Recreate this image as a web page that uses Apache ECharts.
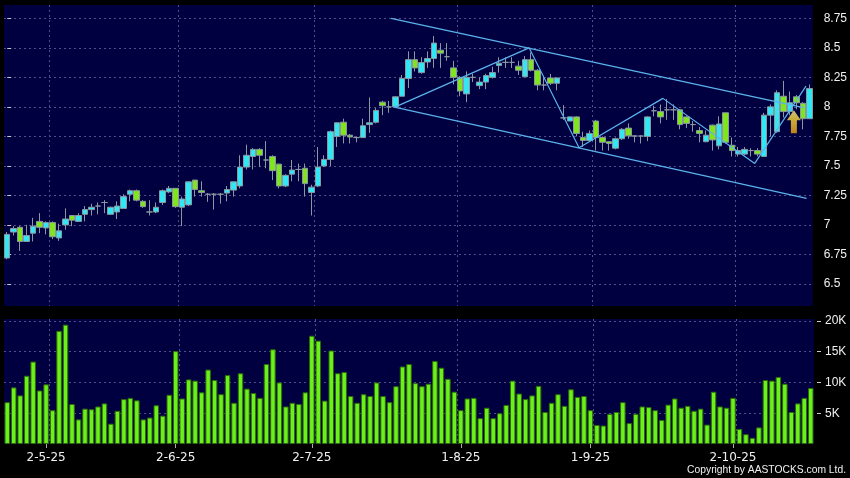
<!DOCTYPE html>
<html><head><meta charset="utf-8">
<script src="https://cdn.jsdelivr.net/npm/echarts@6/dist/echarts.min.js"></script>
<style>html,body{margin:0;padding:0;background:#000;}#c{width:850px;height:478px;}</style>
</head><body><div id="c"></div>
<script>
// [open, close, low, high]
const ohlc = [
[6.72,6.92,6.71,6.94],[6.94,6.97,6.91,6.99],[6.98,6.86,6.78,6.99],[6.86,6.91,6.86,7.00],[6.93,6.99,6.86,7.06],
[7.03,6.98,6.93,7.10],[6.975,7.02,6.92,7.03],[7.02,6.90,6.88,7.03],[6.89,6.95,6.865,7.01],[7.00,7.05,6.96,7.14],
[7.08,7.04,6.99,7.08],[7.03,7.08,7.03,7.10],[7.09,7.13,7.03,7.16],[7.13,7.15,7.08,7.18],[7.16,7.16,7.09,7.19],
[7.19,7.19,7.10,7.21],[7.09,7.15,7.085,7.155],[7.11,7.16,7.05,7.20],[7.14,7.24,7.14,7.26],[7.26,7.29,7.20,7.30],
[7.29,7.21,7.20,7.30],[7.20,7.155,7.145,7.21],[7.11,7.11,7.08,7.21],[7.11,7.15,7.10,7.19],[7.19,7.29,7.17,7.30],
[7.28,7.31,7.27,7.33],[7.31,7.155,7.145,7.31],[7.15,7.22,6.99,7.24],[7.17,7.365,7.16,7.37],[7.38,7.30,7.24,7.38],
[7.29,7.275,7.24,7.37],[7.26,7.26,7.196,7.27],[7.26,7.26,7.13,7.27],[7.26,7.26,7.18,7.27],[7.27,7.30,7.20,7.33],
[7.295,7.365,7.24,7.37],[7.33,7.49,7.31,7.59],[7.49,7.59,7.47,7.68],[7.58,7.64,7.47,7.65],[7.64,7.59,7.49,7.65],
[7.55,7.55,7.48,7.71],[7.58,7.46,7.38,7.59],[7.515,7.33,7.31,7.52],[7.33,7.42,7.32,7.43],[7.43,7.465,7.37,7.55],
[7.47,7.47,7.37,7.52],[7.48,7.35,7.24,7.52],[7.275,7.32,7.08,7.34],[7.33,7.49,7.32,7.66],[7.50,7.555,7.49,7.59],
[7.555,7.79,7.50,7.80],[7.75,7.865,7.66,7.87],[7.87,7.76,7.69,7.90],[7.76,7.745,7.69,7.77],[7.74,7.74,7.70,7.75],
[7.74,7.84,7.74,7.90],[7.85,7.865,7.78,8.08],[7.87,7.97,7.86,7.99],[8.04,8.01,7.93,8.05],[8.00,8.00,7.95,8.05],
[8.00,8.085,7.99,8.09],[8.09,8.24,8.09,8.27],[8.24,8.40,8.16,8.47],[8.40,8.33,8.30,8.47],[8.29,8.375,8.28,8.42],
[8.38,8.41,8.33,8.47],[8.41,8.54,8.33,8.60],[8.48,8.455,8.33,8.54],[8.425,8.425,8.39,8.54],[8.33,8.25,8.19,8.39],
[8.25,8.135,8.09,8.26],[8.11,8.25,8.04,8.30],[8.25,8.25,8.21,8.28],[8.18,8.21,8.15,8.25],[8.21,8.265,8.15,8.28],
[8.25,8.29,8.24,8.34],[8.35,8.37,8.29,8.42],[8.377,8.377,8.33,8.42],[8.377,8.377,8.33,8.42],[8.345,8.31,8.27,8.39],
[8.255,8.40,8.25,8.43],[8.40,8.31,8.30,8.46],[8.31,8.185,8.14,8.32],[8.185,8.185,8.14,8.25],[8.245,8.20,8.185,8.28],
[8.20,8.245,8.14,8.25],[7.907,7.907,7.89,8.015],[7.88,7.915,7.88,7.92],[7.915,7.775,7.75,7.92],[7.74,7.715,7.66,7.79],
[7.715,7.775,7.71,7.80],[7.88,7.74,7.63,7.89],[7.74,7.70,7.63,7.75],[7.705,7.69,7.63,7.71],[7.65,7.73,7.64,7.74],
[7.73,7.81,7.72,7.82],[7.82,7.755,7.73,7.86],[7.753,7.753,7.70,7.76],[7.753,7.753,7.69,7.76],[7.75,7.915,7.71,7.92],
[7.967,7.967,7.92,8.01],[7.96,7.915,7.86,8.02],[7.975,7.975,7.89,8.066],[7.975,7.975,7.89,8.02],[7.975,7.85,7.81,7.98],
[7.915,7.86,7.82,7.92],[7.85,7.85,7.79,7.88],[7.80,7.775,7.70,7.83],[7.705,7.76,7.70,7.80],[7.845,7.72,7.63,7.85],
[7.67,7.855,7.64,7.92],[7.95,7.70,7.69,7.95],[7.675,7.63,7.58,7.74],[7.60,7.63,7.58,7.66],[7.60,7.64,7.59,7.66],
[7.63,7.63,7.58,7.65],[7.63,7.60,7.58,7.65],[7.58,7.93,7.58,7.95],[7.93,8.00,7.75,8.02],[7.79,8.12,7.78,8.14],
[8.09,7.96,7.91,8.22],[7.96,8.035,7.93,8.13],[8.085,8.035,7.98,8.10],[8.03,7.90,7.81,8.04],[7.90,8.155,7.90,8.19]
];
// volume in thousands of shares
const volumeK = [
6.8,9.2,7.9,11.1,13.4,8.7,9.7,5.5,18.4,19.4,
6.5,4.0,5.75,5.65,6.1,6.6,3.3,5.4,7.3,7.5,
7.1,4.0,4.3,6.3,4.6,8.0,15.1,7.4,10.5,10.3,
8.4,12.1,10.4,8.1,11.2,6.7,11.5,9.0,8.3,7.5,
13.0,15.4,10.0,6.1,6.7,6.5,8.4,17.6,16.8,7.05,
15.2,11.5,11.7,7.8,6.7,8.1,7.8,10.0,7.8,6.8,
9.4,12.6,13.0,9.9,9.4,9.8,13.5,12.4,10.6,8.5,
5.5,7.4,7.5,4.2,5.9,4.2,5.0,6.35,10.3,8.2,
7.3,7.9,9.45,5.2,6.7,8.1,6.2,8.9,7.65,7.8,
5.5,3.1,3.0,4.9,5.2,6.8,3.4,4.9,6.1,6.0,
5.5,3.9,6.4,7.4,5.9,6.2,5.4,5.75,3.15,8.5,
6.1,5.9,7.5,2.45,1.6,1.0,2.7,10.4,10.3,10.9,
9.8,5.2,6.6,7.5,9.1
];
const sessions = ohlc.map((_, i) => 'S' + i);
const tickLabels = ['2-5-25','2-6-25','2-7-25','1-8-25','1-9-25','2-10-25'];
const tickAt = [6, 26, 47, 70, 90, 112];      // session carrying each date label
const monthStart = [7, 27, 48, 70, 91, 113];  // first session of each month
const priceTicks = [6.5, 6.75, 7, 7.25, 7.5, 7.75, 8, 8.25, 8.5, 8.75];
const volumeTicks = [5000, 10000, 15000, 20000];
// drawn trend lines: [session, price]
const upperChannel = [[59.33, 8.75], [123.1, 7.994]];
const lowerChannel = [[59.68, 8.0], [123.57, 7.225]];
const zigzag = [[60.0, 8.0], [80.67, 8.50], [88.39, 7.653], [101.35, 8.072], [115.55, 7.521], [123.47, 8.176]];
const signalArrow = [[121.6, 7.875]];

const volume = volumeK.map(v => v * 1000);

const gridLine = { show: true, lineStyle: { color: '#4e4e88', type: [2, 3], width: 1 } };
const labelFont = { color: '#f0f0f0', fontSize: 12, fontFamily: 'Liberation Sans' };
const chart = echarts.init(document.getElementById('c'), null, { renderer: 'canvas' });
const lineColor = '#5cb2ec';
chart.setOption({
  animation: false,
  backgroundColor: '#000000',
  grid: [
    { left: 4, right: 36, top: 5, height: 301, show: true, backgroundColor: '#000040', borderWidth: 0 },
    { left: 4, right: 36, top: 319, height: 125, show: true, backgroundColor: '#000040', borderWidth: 0 }
  ],
  xAxis: [
    { type: 'category', gridIndex: 0, data: sessions, boundaryGap: true,
      axisLine: { show: false }, axisTick: { show: false }, axisLabel: { show: false },
      splitLine: Object.assign({ interval: (i) => monthStart.includes(i), showMaxLine: false }, gridLine) },
    { type: 'category', gridIndex: 1, data: sessions, boundaryGap: true,
      axisLine: { show: false },
      axisTick: { show: true, interval: (i) => tickAt.includes(i), alignWithLabel: true, length: 4, lineStyle: { color: '#aaaaaa' } },
      axisLabel: { show: true, interval: (i) => tickAt.includes(i), margin: 8, color: '#f0f0f0', fontSize: 12, fontFamily: 'DejaVu Sans',
        formatter: (v, i) => { const k = tickAt.indexOf(i); return k >= 0 ? tickLabels[k] : ''; } },
      splitLine: Object.assign({ interval: (i) => monthStart.includes(i), showMaxLine: false }, gridLine) },
    { type: 'value', gridIndex: 0, min: -0.5, max: ohlc.length - 0.5, show: false, splitLine: { show: false } }
  ],
  yAxis: [
    { type: 'value', gridIndex: 0, position: 'right', offset: 3, min: 6.3136, max: 8.8627,
      minInterval: 0.25, maxInterval: 0.25, scale: true,
      axisLine: { show: false },
      axisTick: { show: true, length: 4, customValues: priceTicks, lineStyle: { color: '#cccccc' } },
      axisLabel: Object.assign({ margin: 8, customValues: priceTicks }, labelFont),
      splitLine: gridLine },
    { type: 'value', gridIndex: 1, position: 'right', offset: 3, min: 0, max: 20320,
      minInterval: 5000, maxInterval: 5000,
      axisLine: { show: false },
      axisTick: { show: true, length: 4, customValues: volumeTicks, lineStyle: { color: '#cccccc' } },
      axisLabel: Object.assign({ margin: 8, customValues: volumeTicks, formatter: (v) => (v / 1000) + 'K' }, labelFont),
      splitLine: gridLine }
  ],
  series: [
    { type: 'candlestick', xAxisIndex: 0, yAxisIndex: 0, data: ohlc, barWidth: 6,
      itemStyle: { color: '#33e6f4', color0: '#7fe51c', borderColor: '#8a98a0', borderColor0: '#8a98a0', borderColorDoji: '#8a98a0', borderWidth: 1 } },
    { type: 'bar', xAxisIndex: 1, yAxisIndex: 1, data: volume, barWidth: 5.5,
      itemStyle: { color: '#6cf01c', borderColor: '#2d6a08', borderWidth: 1 } },
    { type: 'line', xAxisIndex: 2, yAxisIndex: 0, data: upperChannel, symbol: 'none', lineStyle: { color: lineColor, width: 1.2 }, z: 5 },
    { type: 'line', xAxisIndex: 2, yAxisIndex: 0, data: lowerChannel, symbol: 'none', lineStyle: { color: lineColor, width: 1.2 }, z: 5 },
    { type: 'line', xAxisIndex: 2, yAxisIndex: 0, data: zigzag, symbol: 'none', lineStyle: { color: lineColor, width: 1.2 }, z: 5 },
    { type: 'scatter', xAxisIndex: 2, yAxisIndex: 0, data: signalArrow, z: 6,
      symbol: 'path://M7,0 L14,10 L10,10 L10,23 L4,23 L4,10 L0,10 Z', symbolSize: [14, 23],
      itemStyle: { color: new echarts.graphic.LinearGradient(0, 0, 0, 1, [{ offset: 0, color: '#fff38a' }, { offset: 0.45, color: '#ffd633' }, { offset: 1, color: '#f2a516' }]) } }
  ],
  graphic: [
    { type: 'text', right: 4, top: 465, style: { text: 'Copyright by AASTOCKS.com Ltd.', fill: '#f0f0f0', fontSize: 10.3, fontFamily: 'Liberation Sans' } }
  ]
});
</script></body></html>
